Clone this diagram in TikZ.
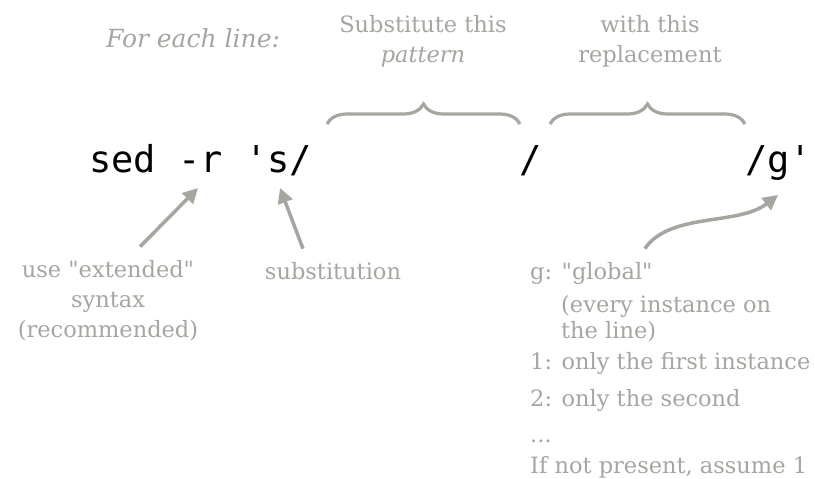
\documentclass[tikz,border=0pt]{standalone}
\usepackage{fontspec}
\setmainfont{DejaVu Serif}[Ligatures=TeXOff]
\setmonofont{DejaVu Sans Mono}
\usetikzlibrary{arrows.meta,decorations.pathreplacing}
\definecolor{notegray}{RGB}{163,167,160}
\begin{document}
\begin{tikzpicture}
[x=1pt, y=-1pt,
code/.style={font=\ttfamily\fontsize{37}{40}\selectfont, inner sep=0pt, anchor=base west},
note/.style={text=notegray, font=\fontsize{22.5}{30}\selectfont, inner sep=0pt, anchor=base},
pointer/.style={draw=notegray, line width=3.5pt, -{Triangle[length=15pt,width=15pt]}},
bracket/.style={draw=notegray, line width=3.2pt, decorate, decoration={brace, amplitude=20pt}}]
\useasboundingbox (0,0) rectangle (815,479);

\node[note, font=\itshape\fontsize{25}{30}\selectfont] (each) at (193,47) {For each line:};
\node[note, align=center] (pattern) at (423,62) {Substitute this\\\textit{pattern}};
\node[note, align=center] (repl) at (650,62) {with this\\replacement};

\node[code] (sed) at (89,172) {sed -r 's/};
\node[code, anchor=base] (mid) at (531,172) {/};
\node[code] (flag) at (745,172) {/g'};

\draw[bracket] (327,124) -- (520,124);
\draw[bracket] (550,124) -- (745,124);

\node[note, align=center] (ext) at (108,337) {use "extended"\\syntax\\(recommended)};
\node[note] (subst) at (333,279) {substitution};

\node[note, anchor=base west] (glob) at (530,279) {g: "global"};
\node[note, anchor=base west] (every) at (561,312) {(every instance on};
\node[note, anchor=base west] (line) at (561,338) {the line)};
\node[note, anchor=base west] (first) at (530,369) {1: only the first instance};
\node[note, anchor=base west] (second) at (530,406) {2: only the second};
\node[note, anchor=base west] (dots) at (530,442) {...};
\node[note, anchor=base west] (absent) at (530,473) {If not present, assume 1};

\coordinate (rtip) at (198,188);
\coordinate (stip) at (280,188);
\coordinate (gtip) at (778,195);
\draw[pointer] ([xshift=32pt,yshift=13pt]ext.north) -- (rtip);
\draw[pointer] ([xshift=-30pt,yshift=13pt]subst.north) -- (stip);
\draw[pointer] ([xshift=-8pt,yshift=13pt]glob.north east) .. controls (670,212) and (738,226) .. (gtip);
\end{tikzpicture}
\end{document}
